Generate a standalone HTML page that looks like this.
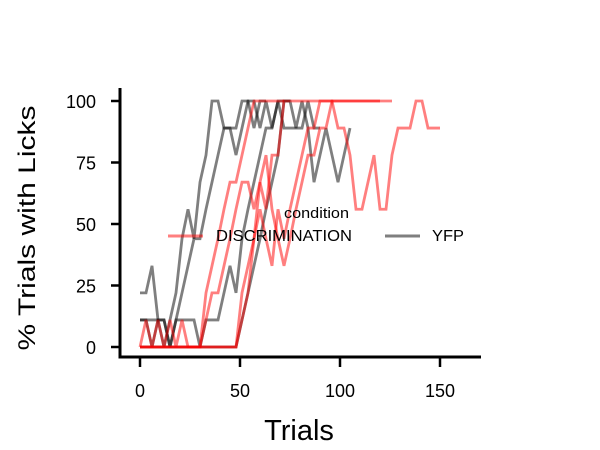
<!DOCTYPE html>
<html><head><meta charset="utf-8"><style>
html,body{margin:0;padding:0;background:#fff;}
svg{display:block;font-family:"Liberation Sans",Arial,sans-serif;}
</style></head><body>
<svg id="chart" width="600" height="450">
<g id="lines"></g>
<g id="axes"></g>
<g>
<text x="284" y="218" font-size="15" textLength="65" lengthAdjust="spacingAndGlyphs">condition</text>
<line x1="168" y1="236" x2="203" y2="236" stroke="#ff0000" stroke-opacity="0.5" stroke-width="3"/>
<text x="216" y="241" font-size="16" textLength="136" lengthAdjust="spacingAndGlyphs">DISCRIMINATION</text>
<line x1="385" y1="236" x2="420" y2="236" stroke="#000" stroke-opacity="0.5" stroke-width="3"/>
<text x="432" y="241" font-size="16" textLength="32" lengthAdjust="spacingAndGlyphs">YFP</text>
</g>
<text x="299" y="440" font-size="29" text-anchor="middle">Trials</text>
<text transform="translate(35,228) rotate(-90)" font-size="24" text-anchor="middle" textLength="245" lengthAdjust="spacingAndGlyphs">% Trials with Licks</text>
</svg>
<script>
const xTicks = [0, 50, 100, 150];
const yTicks = [0, 25, 50, 75, 100];
const trialStep = 3;
const grayA = [22,22,33,11,0,11,22,44,56,44,67,78,100,100,89,89,89,100,100,89,100,100];
const grayB = [11,11,0,11,11,0,11,22,33,44,44,56,67,78,89,89,78,89,100,100,89,100,89,100,89,89,89,89,100,89,89];
const grayC = [0,0,0,0,0,0,0,0,0,0,0,0,0,0,0,0,0,11,22,33,44,56,67,78,100,100,89,100,89,67,78,89,78,67,78,89];
const grayD = [11,11,11,11,11,0,11,11,11,11,0,11,11,11,22,33,22,44,56,67,78,89,89,100,100,100];
const redA = [0,11,0,11,0,11,0,11,0,0,0,22,33,44,56,67,67,78,89,100,100,100,100,100,100];
const redB = [0,0,0,0,0,0,0,0,0,0,0,0,0,0,0,0,0,11,22,44,67,56,78,78,100,100,100,100,100,100,100,100,100,100,100,100,100,100,100,100,100,100,100];
const redC = [0,0,0,0,0,0,0,0,0,0,0,0,0,0,0,0,0,22,33,44,56,44,33,56,44,56,67,78,89,89,100,100,100,89,89,78,56,56,67,78,56,56,78,89,89,89,100,100,89,89,89];
const redD = [0,0,0,0,0,0,0,0,0,0,0,11,22,22,33,44,56,67,67,56,67,78,56,44,33,44,56,67,78,78,89,89,100,100,100,100,100,100,100,100,100];
const series = [
  {name:'yfp-series-1', vals:grayA, color:'#000'},
  {name:'yfp-series-2', vals:grayB, color:'#000'},
  {name:'yfp-series-3', vals:grayC, color:'#000'},
  {name:'yfp-series-4', vals:grayD, color:'#000'},
  {name:'discrimination-series-1', vals:redA, color:'#ff0000'},
  {name:'discrimination-series-2', vals:redB, color:'#ff0000'},
  {name:'discrimination-series-3', vals:redC, color:'#ff0000'},
  {name:'discrimination-series-4', vals:redD, color:'#ff0000'}
];
const xs = t => 140 + t * 2;
const ys = v => 347 - v * 2.46;
const NS = 'http://www.w3.org/2000/svg';
const lines = document.getElementById('lines');
series.forEach(s => {
  const p = document.createElementNS(NS, 'polyline');
  p.setAttribute('points', s.vals.map((v, i) => xs(i * trialStep) + ',' + ys(v)).join(' '));
  p.setAttribute('fill', 'none');
  p.setAttribute('stroke', s.color);
  p.setAttribute('stroke-opacity', '0.5');
  p.setAttribute('stroke-width', '2.8');
  
  
  lines.appendChild(p);
});
const axes = document.getElementById('axes');
function mk(tag, attrs) {
  const e = document.createElementNS(NS, tag);
  for (const k in attrs) e.setAttribute(k, attrs[k]);
  return e;
}
const ySpine = mk('line', {x1:120, y1:88, x2:120, y2:358.5, stroke:'#000', 'stroke-width':3});


axes.appendChild(ySpine);
const xSpine = mk('line', {x1:118.5, y1:357, x2:481, y2:357, stroke:'#000', 'stroke-width':3});


axes.appendChild(xSpine);
xTicks.forEach(t => {
  const l = mk('line', {x1:xs(t), y1:357, x2:xs(t), y2:367, stroke:'#000', 'stroke-width':2.5});
  
  
  axes.appendChild(l);
  const tx = mk('text', {x:xs(t), y:397, 'font-size':18, 'text-anchor':'middle'});
  tx.textContent = t;
  
  
  axes.appendChild(tx);
});
yTicks.forEach(t => {
  const l = mk('line', {x1:111, y1:ys(t), x2:120, y2:ys(t), stroke:'#000', 'stroke-width':2.5});
  
  
  axes.appendChild(l);
  const tx = mk('text', {x:96, y:ys(t) + 7, 'font-size':18, 'text-anchor':'end'});
  tx.textContent = t;
  
  
  axes.appendChild(tx);
});
</script>
</body></html>
